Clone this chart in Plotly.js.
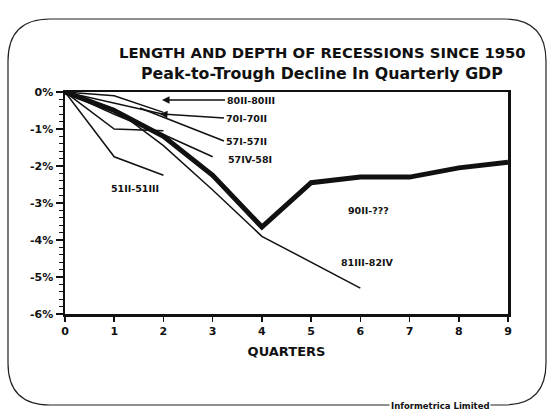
<!DOCTYPE html>
<html><head><meta charset="utf-8">
<script src="https://cdn.plot.ly/plotly-3.0.1.min.js"></script>
<style>html,body{margin:0;padding:0;background:#fff}#chart{width:549px;height:415px}</style>
</head><body><div id="chart"></div>
<script>
// ---- data ----
const quarters = [0,1,2,3,4,5,6,7,8,9];
const s90II  = [0,-0.5,-1.2,-2.25,-3.65,-2.45,-2.3,-2.3,-2.05,-1.9];
const s81III = [0,-0.45,-1.45,-2.65,-3.9,-4.6,-5.3];
const s80II  = [0,-0.1,-0.55];
const s70I   = [0,-0.3,-0.6];
const s57I   = [0,-1.0,-1.05];
const s57IV  = [0,-0.6,-1.15,-1.75];
const s51II  = [0,-1.75,-2.25];
const seriesNames = ['90II-???','81III-82IV','80II-80III','70I-70II','57I-57II','57IV-58I','51II-51III'];
const yTickVals = [0,-1,-2,-3,-4,-5,-6];
const yTickText = ['0%','-1%','-2%','-3%','-4%','-5%','-6%'];
const xTickVals = quarters;
const xTickText = quarters.map(String);

// ---- layout geometry ----
const W=549,H=415,L=65,R=41,T=92,B=101;
const pw=W-L-R, ph=H-T-B;
const xr=[0,9], yr=[-6,0];
function dx(X){return xr[0]+(X-L)/pw*(xr[1]-xr[0]);}
function dy(Y){return yr[1]-(Y-T)/ph*(yr[1]-yr[0]);}
function px(X){return (X-L)/pw;}
function py(Y){return 1-(Y-T)/ph;}

function tr(y,w){return {x:quarters.slice(0,y.length),y:y,mode:'lines',line:{color:'#111',width:w||1.5},hoverinfo:'skip'};}
const data=[tr(s51II),tr(s57IV),tr(s57I),tr(s70I),tr(s80II),tr(s81III),tr(s90II,5)];

const fnt={family:'DejaVu Sans, Liberation Sans, sans-serif',color:'#111',weight:'bold'};
function f(size){return Object.assign({},fnt,{size:size});}
function lab(text,X,Y,anchor,size){return {text:text,x:dx(X),y:dy(Y),xref:'x',yref:'y',showarrow:false,xanchor:anchor||'center',yanchor:'middle',font:f(size||9.5)};}
function arr(text,X,Y,HX,HY,head){return {text:text,x:dx(HX),y:dy(HY),ax:dx(X),ay:dy(Y),axref:'x',ayref:'y',xref:'x',yref:'y',showarrow:true,arrowhead:head,arrowsize:1,arrowwidth:1.5,arrowcolor:'#111',standoff:0,xanchor:'left',yanchor:'middle',font:f(9.5)};}

const annotations=[
  {text:'LENGTH AND DEPTH OF RECESSIONS SINCE 1950',xref:'paper',yref:'paper',x:px(322),y:py(52),showarrow:false,xanchor:'center',yanchor:'middle',font:f(14.8)},
  {text:'Peak-to-Trough Decline In Quarterly GDP',xref:'paper',yref:'paper',x:px(322),y:py(73),showarrow:false,xanchor:'center',yanchor:'middle',font:f(15.8)},
  arr(seriesNames[2],225,100,162,100,2),
  arr(seriesNames[3],224,118,160,114,2),
  arr(seriesNames[4],224,141,140,108,0),
  lab(seriesNames[5],226,159,'left'),
  lab(seriesNames[6],135,188),
  lab(seriesNames[0],368,210),
  lab(seriesNames[1],367,262),
  {text:'Informetrica Limited',xref:'paper',yref:'paper',x:px(440),y:py(406),showarrow:false,xanchor:'center',yanchor:'middle',bgcolor:'#fff',font:f(8.5)}
];

// rounded frame
const fx0=8,fx1=546,fy0=19,fy1=405,rr=42;
const framePath=[
 'M',px(fx0+rr),py(fy0),'L',px(fx1-rr),py(fy0),
 'Q',px(fx1),py(fy0),px(fx1),py(fy0+rr),
 'L',px(fx1),py(fy1-rr),
 'Q',px(fx1),py(fy1),px(fx1-rr),py(fy1),
 'L',px(fx0+rr),py(fy1),
 'Q',px(fx0),py(fy1),px(fx0),py(fy1-rr),
 'L',px(fx0),py(fy0+rr),
 'Q',px(fx0),py(fy0),px(fx0+rr),py(fy0),'Z'].join(' ');

const layout={
  width:W,height:H,margin:{l:L,r:R,t:T,b:B},
  paper_bgcolor:'#fff',plot_bgcolor:'#fff',showlegend:false,
  font:fnt,
  xaxis:{range:xr,tickvals:xTickVals,ticktext:xTickText,showgrid:false,zeroline:false,showline:true,mirror:true,linewidth:2.5,linecolor:'#111',ticks:'outside',ticklen:5,tickwidth:1.5,tickcolor:'#111',tickfont:f(11),
    title:{text:'QUARTERS',font:f(13),standoff:10}},
  yaxis:{range:yr,tickvals:yTickVals,ticktext:yTickText,showgrid:false,zeroline:false,showline:true,mirror:true,linewidth:2.5,linecolor:'#111',ticks:'outside',ticklen:7,tickwidth:1.5,tickcolor:'#111',tickfont:f(11),
    minor:{dtick:0.2,ticks:'outside',ticklen:4,tickwidth:1.2,tickcolor:'#111'}},
  annotations:annotations,
  shapes:[{type:'path',xref:'paper',yref:'paper',path:framePath,line:{color:'#222',width:1.2},layer:'below'}]
};
Plotly.newPlot('chart',data,layout,{staticPlot:true});
</script></body></html>
